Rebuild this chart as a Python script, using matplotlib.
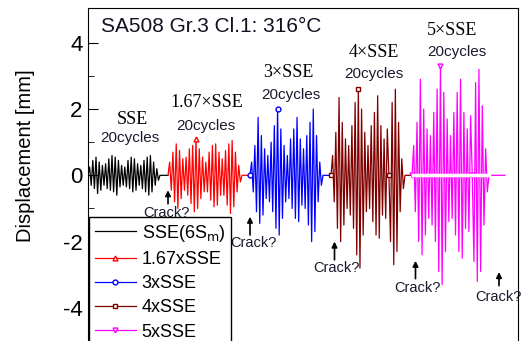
import numpy as np
import matplotlib
matplotlib.use('Agg')
import matplotlib.pyplot as plt

plt.rcParams['font.family'] = ['Liberation Sans', 'DejaVu Sans']
plt.rcParams['mathtext.default'] = 'regular'
plt.rcParams['axes.unicode_minus'] = False

# segment timing (time units)
seg_start = [0, 80, 162, 243, 324]
osc_end = [72, 154, 235, 317, 401]
seg_end = [80, 162, 243, 324, 417]

# half-cycle peak displacements [mm]
sse = [0, 0.25, -0.3, 0.45, -0.4, 0.55, -0.55, 0.4, -0.45, 0.3, -0.3, 0.35, -0.4, 0.5,
       -0.45, 0.6, -0.5, 0.55, -0.6, 0.45, -0.35, 0.3, -0.3, 0.25, -0.35, 0.45, -0.4,
       0.55, -0.5, 0.5, -0.45, 0.35, -0.3, 0.3, -0.4, 0.45, -0.5, 0.55, -0.6, 0.6, -0.5,
       0.4, -0.3, 0.2, -0.15, 0]
sse167 = [0, 0.4, -0.45, 0.7, -0.8, 0.95, -1.0, 0.75, -0.7, 0.5, -0.45, 0.55, -0.6, 0.8,
          -0.85, 0.9, -1.1, 1.1, -1.0, 0.8, -0.7, 0.55, -0.5, 0.4, -0.5, 0.7, -0.75, 0.9,
          -0.95, 0.95, -0.9, 0.7, -0.6, 0.5, -0.6, 0.75, -0.9, 0.95, -1.15, 1.05, -0.95,
          0.7, -0.5, 0.3, -0.2, 0]
sse3 = [0, 0.4, -0.5, 0.9, -1.1, 1.75, -1.45, 1.2, -1.2, 0.8, -0.7, 0.6, -0.8, 1.0, -1.1,
        1.5, -1.6, 2.0, -1.8, 1.4, -1.3, 0.9, -0.8, 0.6, -0.7, 1.1, -1.0, 1.4, -1.3, 1.75,
        -1.4, 1.1, -0.9, 0.8, -1.0, 1.2, -1.5, 1.6, -2.0, 2.0, -1.7, 1.2, -0.8, 0.4, -0.3, 0]
sse4 = [0, 0.6, -0.8, 1.3, -1.6, 2.35, -2.0, 1.6, -1.5, 1.1, -1.0, 0.9, -1.2, 1.5, -1.6,
        2.2, -2.4, 2.6, -2.8, 2.0, -1.8, 1.3, -1.1, 0.9, -1.0, 1.5, -1.4, 1.9, -1.8, 2.4,
        -1.9, 1.5, -1.2, 1.1, -1.3, 1.4, 0, -2.0, 2.2, -2.7, 2.6, -2.3, 1.6, -1.1, 0.5,
        -0.4, 0]
sse5 = [0, 0.9, -1.1, 1.6, -2.0, 2.9, -2.4, 2.0, -1.8, 1.4, -1.3, 1.2, -1.5, 1.9, -2.0,
        2.6, -2.9, 3.3, -3.3, 2.5, -2.3, 1.7, -1.4, 1.2, -1.3, 1.9, -1.8, 2.5, -2.3, 2.9,
        -2.5, 1.9, -1.6, 1.4, -1.7, 1.8, 0, -2.6, 2.8, -3.2, 3.2, -2.9, 2.1, -1.5, 0.8,
        -0.5, 0]

series = [sse, sse167, sse3, sse4, sse5]
labels = [r'SSE(6S$_\mathrm{m}$)', '1.67xSSE', '3xSSE', '4xSSE', '5xSSE']
colors = ['#000000', '#ff0000', '#0000ff', '#800000', '#ff00ff']
markers = [None, '^', 'o', 's', 'v']
mark_idx = [[], [17], [0, 17], [0, 17, 36], [0, 17, 36]]

level_names = ['SSE', '1.67\u00d7SSE', '3\u00d7SSE', '4\u00d7SSE', '5\u00d7SSE']
level_pos = [(44, 1.68), (119, 2.19), (200, 3.11), (286, 3.72), (364, 4.37)]
cycles_pos = [(42, 1.12), (118, 1.50), (203, 2.41), (286, 3.06), (369, 3.72)]

crack_x = [80, 162, 246.5, 327.5, 411]
crack_tip = [-0.45, -1.25, -2.0, -2.58, -2.92]
crack_tail = [-0.86, -1.80, -2.55, -3.12, -3.33]
crack_text = [(78, -1.15), (165, -2.04), (248, -2.81), (329, -3.40), (410, -3.66)]

fig = plt.figure(figsize=(5.27, 3.41), dpi=100)
ax = fig.add_axes([88 / 527, 0, 430 / 527, 333 / 341])

for i, vals in enumerate(series):
    t = np.linspace(seg_start[i], osc_end[i], len(vals))
    t = np.append(t, seg_end[i])
    y = np.append(vals, 0)
    ax.plot(t, y, color=colors[i], lw=0.9, label=labels[i],
            marker=markers[i], markevery=mark_idx[i] if mark_idx[i] else None,
            ms=3.5, mfc='white', mew=1)

# white band over the zero line of the last block
ax.plot([seg_start[4] + 1, osc_end[4]], [0, 0], color='white', lw=2.5, zorder=3)

for i in range(5):
    ax.text(*level_pos[i], level_names[i], family='Liberation Serif', fontsize=13,
            ha='center', va='center')
    ax.text(*cycles_pos[i], '20cycles', fontsize=11, ha='center', va='center',
            color='#1a1a2e')
    ax.annotate('', xy=(crack_x[i], crack_tip[i]), xytext=(crack_x[i], crack_tail[i]),
                arrowprops=dict(arrowstyle='-|>', color='k', lw=1.2, mutation_scale=8,
                                shrinkA=0, shrinkB=0))
    ax.text(*crack_text[i], 'Crack?', fontsize=10.5, ha='center', va='center',
            color='#1a1a2e')

ax.text(13, 4.49, 'SA508 Gr.3 Cl.1: 316\u00b0C', fontsize=15, ha='left', va='center',
        color='#111122')

ax.set_xlim(0, 430)
ax.set_ylim(-5.0, 5.05)
ax.set_yticks([-4, -2, 0, 2, 4])
ax.set_yticks([-3, -1, 1, 3], minor=True)
ax.tick_params(axis='y', which='major', direction='in', length=7, labelsize=16, pad=4)
ax.tick_params(axis='y', which='minor', direction='in', length=4)
ax.set_xticks([])
ax.spines['bottom'].set_visible(False)
ax.set_ylabel('Displacement [mm]', fontsize=14.5)
ax.yaxis.set_label_coords(-0.123, 0.555)

leg = ax.legend(loc='lower left', bbox_to_anchor=(0.003, -0.015), fontsize=13,
                fancybox=False, edgecolor='black', framealpha=1, borderpad=0.3,
                handlelength=2.3, handletextpad=0.3, labelspacing=0.4,
                borderaxespad=0)
leg.get_frame().set_linewidth(1)

fig.savefig('out.png', dpi=100)
